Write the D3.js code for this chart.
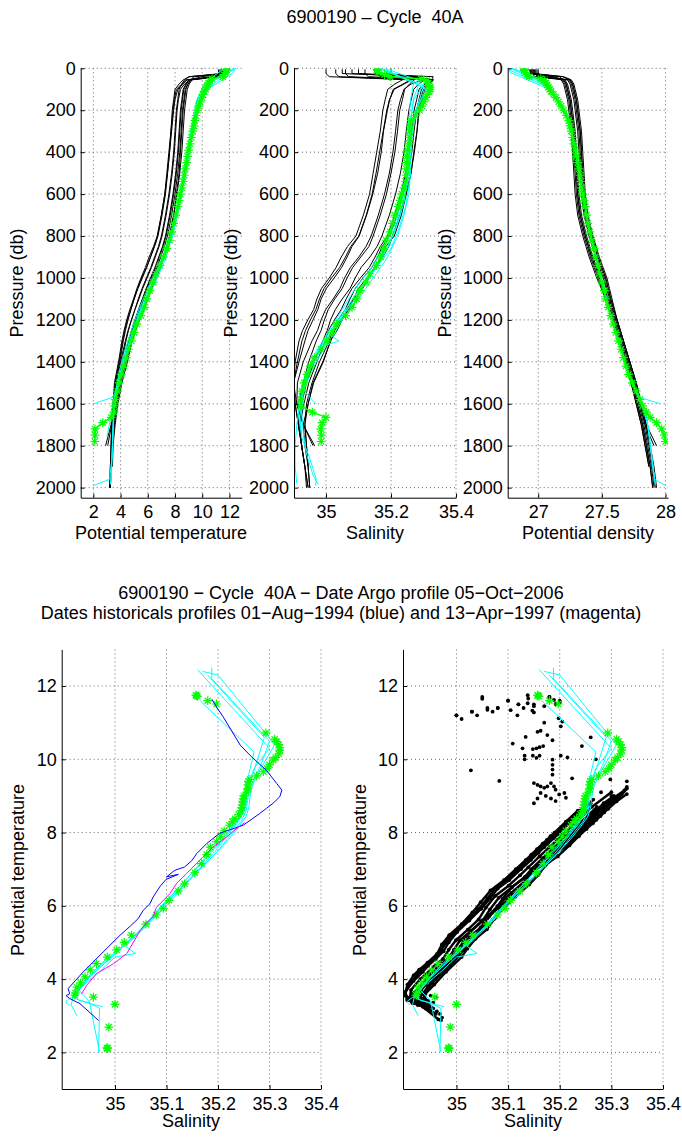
<!DOCTYPE html>
<html><head><meta charset="utf-8">
<script src="https://cdn.jsdelivr.net/npm/d3@7"></script>
<style>
body{margin:0;background:#fff;}
svg text{font-family:"Liberation Sans",Arial,Helvetica,sans-serif;}
</style></head><body>
<svg id="c" width="682" height="1138"></svg>
<script>
// ---------------- DATA ----------------
const presTicks = [0,200,400,600,800,1000,1200,1400,1600,1800,2000];
const tempTicks = [2,4,6,8,10,12];
const salTicksTop = [35,35.2,35.4];
const densTicks = [27,27.5,28];
const salTicksBottom = [35,35.1,35.2,35.3,35.4];
const thetaTicks = [2,4,6,8,10,12];

// Argo float profile (green)
const floatP = [5,10,20,30,40,50,60,70,80,90,100,110,125,140,160,180,200,225,250,275,300,330,360,390,420,450,480,510,540,570,600,630,660,700,740,780,820,860,900,940,980,1020,1060,1100,1140,1180,1220,1260,1300,1340,1380,1420,1460,1500,1540,1580,1610,1640,1665,1690,1720,1750,1780];
const floatT = [11.75,11.74,11.72,11.6,11.51,10.72,10.55,10.48,10.4,10.32,10.25,10.15,10.05,9.98,9.85,9.75,9.66,9.55,9.45,9.4,9.3,9.2,9.1,9.0,8.92,8.85,8.75,8.68,8.6,8.5,8.38,8.3,8.2,8.05,7.9,7.75,7.6,7.4,7.15,6.9,6.6,6.4,6.15,5.93,5.75,5.5,5.2,5.0,4.8,4.6,4.42,4.25,4.06,3.9,3.78,3.62,3.56,3.51,3.31,2.69,2.12,2.12,2.1];
const floatS = [35.157,35.158,35.16,35.18,35.197,35.293,35.31,35.314,35.318,35.32,35.32,35.318,35.312,35.307,35.30,35.295,35.288,35.275,35.262,35.259,35.258,35.258,35.255,35.25,35.249,35.248,35.247,35.246,35.245,35.24,35.233,35.228,35.222,35.212,35.205,35.197,35.185,35.178,35.168,35.155,35.135,35.123,35.105,35.094,35.08,35.06,35.032,35.018,35.003,34.985,34.964,34.952,34.942,34.933,34.926,34.923,34.922,34.958,35.0,34.988,34.984,34.986,34.985];
const floatD = [26.89,26.89,26.90,26.91,26.93,27.02,27.05,27.06,27.07,27.08,27.09,27.10,27.12,27.14,27.16,27.18,27.20,27.22,27.24,27.25,27.26,27.27,27.28,27.29,27.30,27.31,27.32,27.33,27.335,27.34,27.35,27.36,27.37,27.38,27.39,27.405,27.42,27.44,27.45,27.47,27.48,27.50,27.52,27.53,27.55,27.57,27.59,27.61,27.63,27.65,27.67,27.69,27.71,27.74,27.77,27.80,27.82,27.85,27.88,27.93,27.97,27.99,28.0];

// Neighbouring Argo profiles (black)
const blackP = [5,25,40,55,75,100,150,200,300,400,500,600,700,800,850,900,950,1000,1050,1100,1150,1200,1250,1300,1400,1500,1600,1700,1800,1900,2000];
const blackT = [
[11.5,11.5,11.4,9.2,8.95,8.8,8.7,8.6,8.5,8.4,8.3,8.1,7.9,7.6,7.38,7.1,6.82,6.5,6.18,5.9,5.62,5.3,5.03,4.8,4.4,4.0,3.75,3.55,3.4,3.3,3.25],
[11.7,11.65,9.0,8.7,8.5,8.3,8.2,8.1,8.0,7.9,7.75,7.55,7.3,7.0,6.78,6.5,6.22,5.9,5.58,5.3,5.06,4.8,4.58,4.4,4.1,3.8,3.6,3.45,3.35,null,null],
[11.3,11.3,11.2,8.9,8.6,8.2,8.0,7.9,7.75,7.6,7.45,7.3,7.05,6.75,6.5,6.2,5.9,5.55,5.25,5.0,4.76,4.5,4.31,4.15,3.9,3.6,3.45,3.35,3.3,3.25,3.2],
[11.6,11.55,10.6,9.25,9.05,8.9,8.8,8.7,8.6,8.5,8.35,8.15,7.9,7.6,7.42,7.2,6.93,6.6,6.28,6.0,5.72,5.4,5.1,4.85,4.5,4.1,3.8,3.6,3.45,3.4,null],
[11.4,11.4,9.1,8.6,8.3,8.0,7.9,7.8,7.7,7.55,7.4,7.25,7.0,6.7,6.42,6.1,5.82,5.5,5.2,4.95,4.68,4.45,4.26,4.1,3.85,3.55,3.45,3.3,2.9,null,null],
[11.5,11.45,11.0,9.0,8.8,8.6,8.5,8.4,8.3,8.2,8.05,7.85,7.6,7.3,7.08,6.8,6.52,6.2,5.88,5.6,5.32,5.05,4.8,4.6,4.25,3.9,3.65,3.5,3.4,3.3,3.25],
[11.2,11.2,11.1,8.8,8.5,8.1,7.95,7.85,7.7,7.6,7.45,7.25,7.0,6.7,6.47,6.2,5.92,5.6,5.28,5.0,4.76,4.55,4.36,4.2,3.95,3.65,3.5,3.35,3.3,3.25,3.2],
[11.6,11.6,9.4,9.15,8.95,8.75,8.65,8.55,8.45,8.35,8.2,8.0,7.75,7.45,7.22,6.95,6.68,6.35,6.0,5.7,5.41,5.15,4.88,4.65,4.3,3.95,3.7,3.5,3.4,3.3,null],
[11.4,11.35,11.3,9.1,8.7,8.4,8.25,8.15,8.05,7.95,7.8,7.6,7.35,7.05,6.83,6.55,6.27,5.95,5.63,5.35,5.06,4.8,4.55,4.35,4.0,3.7,3.5,3.35,3.05,null,null],
[11.7,11.7,10.0,9.05,8.85,8.65,8.55,8.45,8.35,8.25,8.1,7.9,7.65,7.35,7.12,6.85,6.58,6.25,5.93,5.65,5.36,5.1,4.83,4.6,4.2,3.85,3.6,3.45,3.35,3.3,3.25]
];
const blackS = [
[35.12,35.12,35.13,35.33,35.315,35.30,35.29,35.285,35.28,35.27,35.262,35.247,35.232,35.21,35.184,35.172,35.155,35.127,35.100,35.085,35.070,35.047,35.027,35.015,34.99,34.96,34.945,34.93,34.935,34.945,34.95],
[35.05,35.05,35.30,35.272,35.257,35.242,35.235,35.227,35.22,35.212,35.20,35.186,35.167,35.145,35.132,35.107,35.082,35.065,35.050,35.027,35.007,34.995,34.985,34.97,34.947,34.93,34.915,34.915,34.925,null,null],
[35.03,35.03,35.04,35.265,35.24,35.21,35.195,35.187,35.176,35.165,35.154,35.142,35.124,35.101,35.076,35.06,35.042,35.017,34.994,34.98,34.969,34.952,34.937,34.926,34.912,34.90,34.905,34.915,34.925,34.935,34.94],
[35.2,35.2,35.26,35.33,35.32,35.305,35.295,35.287,35.28,35.272,35.261,35.246,35.227,35.205,35.193,35.175,35.148,35.13,35.113,35.085,35.064,35.05,35.034,35.013,34.992,34.962,34.945,34.935,34.94,34.945,null],
[35.08,35.08,35.28,35.235,35.212,35.19,35.182,35.175,35.167,35.156,35.145,35.134,35.115,35.092,35.066,35.047,35.031,35.01,34.986,34.972,34.962,34.944,34.928,34.917,34.905,34.90,34.91,34.93,34.965,null,null],
[35.15,35.15,35.17,35.305,35.285,35.27,35.262,35.255,35.247,35.24,35.229,35.214,35.195,35.172,35.157,35.135,35.108,35.09,35.074,35.05,35.029,35.014,35.004,34.99,34.964,34.94,34.925,34.92,34.925,34.935,34.945],
[35.0,35.0,35.01,35.26,35.237,35.207,35.196,35.189,35.177,35.17,35.159,35.144,35.125,35.102,35.080,35.065,35.048,35.025,35.001,34.985,34.975,34.96,34.945,34.935,34.917,34.90,34.905,34.915,34.925,34.935,34.945],
[35.1,35.1,35.33,35.325,35.305,35.286,35.279,35.271,35.264,35.256,35.245,35.23,35.211,35.189,35.167,35.151,35.133,35.106,35.080,35.062,35.047,35.026,35.008,34.998,34.972,34.947,34.932,34.92,34.925,34.935,null],
[35.06,35.06,35.07,35.30,35.262,35.24,35.229,35.221,35.214,35.206,35.195,35.18,35.161,35.139,35.123,35.101,35.075,35.057,35.043,35.022,34.999,34.985,34.974,34.957,34.93,34.912,34.91,34.93,34.96,null,null],
[35.18,35.18,35.27,35.33,35.31,35.294,35.286,35.279,35.271,35.264,35.252,35.237,35.219,35.196,35.173,35.159,35.141,35.114,35.090,35.074,35.059,35.037,35.021,35.01,34.98,34.957,34.94,34.935,34.94,34.945,34.95]
];
const blackD = [
[26.96,26.96,26.97,27.20,27.22,27.23,27.25,27.26,27.28,27.29,27.30,27.31,27.33,27.37,27.395,27.42,27.45,27.48,27.51,27.54,27.565,27.59,27.615,27.64,27.69,27.74,27.78,27.82,27.85,27.88,27.90],
[26.93,26.94,27.19,27.25,27.27,27.28,27.30,27.31,27.33,27.34,27.35,27.36,27.38,27.42,27.445,27.47,27.50,27.53,27.55,27.57,27.595,27.62,27.645,27.67,27.72,27.77,27.81,27.85,27.88,null,null],
[26.99,26.99,27.00,27.24,27.26,27.27,27.29,27.30,27.32,27.33,27.34,27.35,27.37,27.41,27.435,27.46,27.49,27.52,27.54,27.56,27.585,27.61,27.635,27.66,27.71,27.76,27.80,27.84,27.87,27.90,27.92],
[26.95,26.95,27.10,27.18,27.20,27.21,27.23,27.24,27.26,27.27,27.28,27.29,27.31,27.35,27.375,27.40,27.43,27.46,27.495,27.53,27.555,27.58,27.605,27.63,27.68,27.73,27.77,27.81,27.84,27.87,null],
[26.97,26.97,27.20,27.26,27.28,27.29,27.31,27.32,27.34,27.35,27.36,27.37,27.39,27.43,27.455,27.48,27.51,27.54,27.56,27.58,27.60,27.62,27.645,27.67,27.72,27.77,27.81,27.85,27.93,null,null],
[26.96,26.96,27.05,27.20,27.22,27.23,27.25,27.26,27.28,27.29,27.30,27.31,27.33,27.37,27.395,27.42,27.45,27.48,27.51,27.54,27.565,27.59,27.615,27.64,27.69,27.74,27.78,27.82,27.85,27.88,27.90],
[27.00,27.00,27.01,27.25,27.27,27.28,27.30,27.31,27.33,27.34,27.35,27.36,27.38,27.42,27.445,27.47,27.50,27.53,27.55,27.57,27.595,27.62,27.645,27.67,27.72,27.77,27.81,27.85,27.88,27.91,27.93],
[26.95,26.95,27.17,27.19,27.21,27.22,27.24,27.25,27.27,27.28,27.29,27.30,27.32,27.36,27.385,27.41,27.44,27.47,27.50,27.53,27.555,27.58,27.605,27.63,27.68,27.73,27.77,27.81,27.84,27.87,null],
[26.98,26.98,26.99,27.23,27.25,27.26,27.28,27.29,27.31,27.32,27.33,27.34,27.36,27.40,27.425,27.45,27.48,27.51,27.535,27.56,27.585,27.61,27.635,27.66,27.71,27.76,27.80,27.84,27.91,null,null],
[26.94,26.94,27.12,27.21,27.23,27.24,27.26,27.27,27.29,27.30,27.31,27.32,27.34,27.38,27.405,27.43,27.46,27.49,27.52,27.55,27.575,27.60,27.625,27.65,27.70,27.75,27.79,27.83,27.86,27.89,27.91]
];

// Historical profiles (cyan)
const cyanP = [
[0,80,150,250,350,450,550,650,750,850,950,1050,1150,1250,1350,1450,1530,1570,1600],
[0,10,90,160,260,360,460,560,660,760,860,960,1060,1160,1260,1360,1460,1560,1660,1760,1860,1960,1990],
[0,70,150,250,350,450,550,650,750,850,950,1050,1150,1250,1350,1450,1550,1650,1760],
[0,20,100,200,300,400,500,600,700,800,900,1000,1100,1200,1280,1300,1320,1400,1500,1600,1700,1800,1900,1980],
[0,60,140,240,340,440,540,640,740,840,940,1040,1140,1240,1340,1440,1540,1640,1740,1840,1940,1985]
];
const cyanT = [
[12.45,10.3,9.75,9.35,9.05,8.8,8.55,8.25,7.9,7.5,6.9,6.2,5.5,4.95,4.45,4.0,3.7,3.4,2.0],
[12.5,12.2,10.5,9.9,9.45,9.15,8.9,8.6,8.3,7.95,7.5,6.8,6.1,5.4,4.85,4.35,3.95,3.65,3.5,3.45,3.35,3.2,2.0],
[11.6,10.2,9.6,9.3,9.0,8.75,8.5,8.2,7.85,7.4,6.75,6.0,5.35,4.8,4.3,3.9,3.6,3.3,3.0],
[12.4,12.3,10.4,9.55,9.2,8.95,8.7,8.45,8.15,7.8,7.35,6.7,6.0,5.3,4.9,4.7,4.6,4.2,3.85,3.55,3.45,3.4,3.35,3.3],
[12.3,10.6,9.7,9.35,9.1,8.85,8.6,8.3,7.95,7.5,6.95,6.3,5.6,5.0,4.5,4.05,3.7,3.5,3.42,3.38,3.3,3.25]
];
const cyanS = [
[35.16,35.30,35.27,35.26,35.255,35.255,35.25,35.235,35.215,35.19,35.15,35.105,35.06,35.02,34.975,34.945,34.93,34.95,34.97],
[35.188,35.188,35.30,35.285,35.27,35.26,35.258,35.255,35.245,35.225,35.2,35.15,35.1,35.055,35.01,34.97,34.94,34.925,34.92,34.925,34.95,34.97,34.968],
[35.165,35.27,35.26,35.255,35.252,35.25,35.245,35.23,35.21,35.18,35.14,35.09,35.05,35.01,34.97,34.94,34.92,34.915,34.926],
[35.17,35.2,35.31,35.275,35.265,35.262,35.26,35.255,35.24,35.22,35.19,35.145,35.1,35.05,35.02,35.04,35.0,34.97,34.94,34.92,34.91,34.905,34.905,34.91],
[35.18,35.29,35.27,35.26,35.255,35.255,35.25,35.24,35.22,35.195,35.16,35.115,35.07,35.025,34.985,34.95,34.93,34.925,34.93,34.94,34.96,34.976]
];
const cyanD = [
[26.78,27.07,27.15,27.24,27.28,27.31,27.34,27.365,27.395,27.435,27.475,27.515,27.555,27.605,27.655,27.705,27.76,27.80,27.96],
[26.77,26.78,27.08,27.16,27.245,27.28,27.315,27.34,27.37,27.40,27.44,27.48,27.52,27.56,27.61,27.66,27.71,27.78,27.85,27.875,27.895,27.915,28.0],
[26.80,27.06,27.15,27.24,27.28,27.31,27.34,27.365,27.395,27.435,27.475,27.515,27.555,27.605,27.655,27.705,27.775,27.845,27.88],
[26.77,26.78,27.09,27.20,27.26,27.30,27.325,27.35,27.38,27.41,27.45,27.49,27.53,27.58,27.62,27.66,27.64,27.68,27.74,27.81,27.86,27.88,27.90,27.92],
[26.79,27.05,27.14,27.23,27.275,27.31,27.335,27.36,27.39,27.43,27.47,27.51,27.55,27.60,27.65,27.70,27.77,27.84,27.87,27.89,27.91,27.92]
];

// Historical profile 01-Aug-1994 (blue) and 13-Apr-1997 (magenta)
const blueS = [35.188,35.197,35.210,35.243,35.265,35.294,35.314,35.324,35.320,35.307,35.294,35.281,35.249,35.203,35.178,35.159,35.149,35.135,35.116,35.100,35.123,35.099,35.087,35.074,35.068,35.055,35.045,35.030,35.010,34.977,34.938,34.909,34.912,34.905,34.912,34.932,34.968];
const blueT = [11.64,11.43,11.16,10.39,10.07,9.70,9.34,9.16,8.98,8.80,8.66,8.52,8.20,7.98,7.70,7.43,7.23,7.06,6.97,6.79,6.86,6.72,6.52,6.24,6.06,5.88,5.65,5.45,5.20,4.74,4.19,3.74,3.60,3.55,3.47,3.33,2.87];
const magS = [35.252,35.235,35.217,35.190,35.171,35.139,35.120,35.107,35.094,35.080,35.074,35.060,35.049,35.023,34.997,34.964,34.945,34.935];
const magT = [8.27,8.10,7.88,7.60,7.34,6.88,6.62,6.34,6.15,5.95,5.70,5.52,5.33,4.70,4.42,4.15,3.83,3.60];

// Scattered historical points (black dots, T/S diagram)
const histS = [35.138,35.139,35.138,35.147,35.150,35.105,35.189,35.192,35.198,35.205,35.202,35.157,35.163,35.176,35.186,35.134,35.109,35.128,35.148,35.155,35.161,35.168,35.148,35.155,35.132,35.132,35.161,35.202,35.215,35.243,35.028,35.083,35.186,35.186,35.186,35.186,35.150,35.157,35.163,35.170,35.176,35.183,35.189,35.192,35.163,35.173,35.183,35.192,35.199,35.209,35.212,35.150,35.157,35.224,35.298,35.170,35.118,
  34.905,34.915,34.925,34.935,34.945,34.955,34.962,34.968,34.972,34.970,34.930,34.945,34.955,34.960,34.950];
const histT = [11.75,11.66,11.53,11.33,11.28,11.34,11.62,11.51,11.12,11.03,10.90,10.75,10.78,10.66,10.52,10.61,10.43,10.30,10.28,10.30,10.33,10.36,10.10,10.04,10.10,10.00,10.10,10.10,10.05,10.36,9.70,9.41,9.99,9.85,9.72,9.58,9.35,9.30,9.26,9.22,9.26,9.35,9.26,9.17,9.08,9.00,8.93,8.86,9.04,9.08,8.95,8.80,8.93,9.48,9.45,11.45,11.20,
  3.42,3.38,3.35,3.30,3.25,3.20,3.12,3.05,2.95,2.88,3.45,3.40,3.36,3.50,3.55];

// ---------------- DRAWING ----------------
const svg = d3.select("#c");
const FONT = '"Liberation Sans",Arial,Helvetica,sans-serif';
const FS = 18;
const fmt = v => String(+v.toFixed(2));
let clipN = 0;

function panel(o){
  const g = svg.append("g");
  const xs = d3.scaleLinear().domain(o.xDom).range([o.x0,o.x1]);
  const ys = d3.scaleLinear().domain(o.yDom).range(o.yRange);
  const id = "clip"+(clipN++);
  g.append("clipPath").attr("id",id).append("rect")
    .attr("x",o.x0).attr("y",o.y0).attr("width",o.x1-o.x0).attr("height",o.y1-o.y0);
  const grid = g.append("g").attr("stroke","#444").attr("stroke-width",0.8).attr("stroke-dasharray","1,3");
  o.xTicks.forEach(t=>grid.append("line").attr("x1",xs(t)).attr("x2",xs(t)).attr("y1",o.y0).attr("y2",o.y1));
  o.yTicks.forEach(t=>grid.append("line").attr("x1",o.x0).attr("x2",o.x1).attr("y1",ys(t)).attr("y2",ys(t)));
  const plot = g.append("g").attr("clip-path",`url(#${id})`);
  const ax = g.append("g").attr("transform",`translate(0,${o.y1})`)
    .call(d3.axisBottom(xs).tickValues(o.xTicks).tickSizeInner(-4).tickSizeOuter(0).tickPadding(8).tickFormat(fmt));
  const ay = g.append("g").attr("transform",`translate(${o.x0},0)`)
    .call(d3.axisLeft(ys).tickValues(o.yTicks).tickSizeInner(-4).tickSizeOuter(0).tickPadding(5).tickFormat(fmt));
  [ax,ay].forEach(a=>{
    a.attr("font-size",FS).attr("font-family",FONT);
    a.selectAll("path,line").attr("stroke","#000").attr("stroke-width",1);
    a.selectAll("text").attr("fill","#000");
  });
  return {plot,xs,ys};
}

const star = {draw(ctx,size){const r=Math.sqrt(size)/2,d=r*Math.SQRT1_2;
  ctx.moveTo(-r,0);ctx.lineTo(r,0);ctx.moveTo(0,-r);ctx.lineTo(0,r);
  ctx.moveTo(-d,-d);ctx.lineTo(d,d);ctx.moveTo(-d,d);ctx.lineTo(d,-d);}};
const starPath = d3.symbol().type(star).size(76)();

function drawLine(plot, pts, color, w){
  plot.append("path").datum(pts)
    .attr("d", d3.line().defined(d=>d[0]!=null && d[1]!=null).x(d=>d[0]).y(d=>d[1]))
    .attr("fill","none").attr("stroke",color).attr("stroke-width",w||1).attr("stroke-linejoin","round");
}
function drawStars(plot, pts){
  plot.append("g").selectAll("path").data(pts).join("path")
    .attr("d",starPath).attr("transform",d=>`translate(${d[0]},${d[1]})`)
    .attr("fill","none").attr("stroke","#00ff00").attr("stroke-width",1.2);
}

const BLACK="#000", CYAN="#00ffff", GREEN="#00ff00", BLUE="#0000ff", MAG="#ff00ff";

// Top panels
const topY0 = 68.3, topY1 = 497.7;
const topSpecs = [
  {x0:80.7,x1:241.7,xDom:[1.07,12.9],xTicks:tempTicks,bv:blackT,cv:cyanT,fv:floatT,label:"Potential temperature",lx:161,px:23},
  {x0:294,x1:456,xDom:[34.9015,35.4],xTicks:salTicksTop,bv:blackS,cv:cyanS,fv:floatS,label:"Salinity",lx:375,px:237},
  {x0:507.7,x1:668,xDom:[26.76,28.02],xTicks:densTicks,bv:blackD,cv:cyanD,fv:floatD,label:"Potential density",lx:588,px:451}
];
topSpecs.forEach(s=>{
  const {plot,xs,ys} = panel({x0:s.x0,x1:s.x1,y0:topY0,y1:topY1,xDom:s.xDom,yDom:[0,2048],yRange:[topY0,topY1],xTicks:s.xTicks,yTicks:presTicks});
  s.bv.forEach(arr=>drawLine(plot, blackP.map((p,i)=>[arr[i]==null?null:xs(arr[i]), ys(p)]), BLACK, 1));
  s.cv.forEach((arr,k)=>drawLine(plot, cyanP[k].map((p,i)=>[xs(arr[i]), ys(p)]), CYAN, 1));
  const fp = floatP.map((p,i)=>[xs(s.fv[i]), ys(p)]);
  drawLine(plot, fp, GREEN, 1.5);
  drawStars(plot, fp);
  svg.append("text").attr("x",s.lx).attr("y",539).attr("text-anchor","middle").attr("font-size",FS).text(s.label);
  svg.append("text").attr("transform",`translate(${s.px},283) rotate(-90)`).attr("text-anchor","middle").attr("font-size",FS).text("Pressure (db)");
});
svg.append("text").attr("x",375).attr("y",23).attr("text-anchor","middle").attr("font-size",FS).style("white-space","pre").text("6900190 \u2013 Cycle  40A");

// Bottom titles
svg.append("text").attr("x",341).attr("y",599).attr("text-anchor","middle").attr("font-size",FS)
  .style("white-space","pre").text("6900190 \u2212 Cycle  40A \u2212 Date Argo profile 05\u2212Oct\u22122006");
svg.append("text").attr("x",341).attr("y",619).attr("text-anchor","middle").attr("font-size",FS)
  .text("Dates historicals profiles 01\u2212Aug\u22121994 (blue) and 13\u2212Apr\u22121997 (magenta)");

// Bottom panels (theta/S)
const botY0 = 649.4, botY1 = 1089;
const botSpecs = [{x0:61.7,x1:321,lx:191,px:24,right:false},{x0:403,x1:663,lx:533,px:366,right:true}];
botSpecs.forEach(s=>{
  const {plot,xs,ys} = panel({x0:s.x0,x1:s.x1,y0:botY0,y1:botY1,xDom:[34.8965,35.4],yDom:[1,13],yRange:[botY1,botY0],xTicks:salTicksBottom,yTicks:thetaTicks});
  if(s.right){
    const dots = [];
    blackT.forEach((arr,k)=>arr.forEach((t,i)=>{ if(t!=null) dots.push([xs(blackS[k][i]), ys(t)]); }));
    histS.forEach((v,i)=>dots.push([xs(v), ys(histT[i])]));
    blackT.forEach((arr,k)=>drawLine(plot, arr.map((t,i)=>[t==null?null:xs(blackS[k][i]), t==null?null:ys(t)]).slice(3), BLACK, 2.4));
    plot.append("g").selectAll("circle").data(dots).join("circle")
      .attr("cx",d=>d[0]).attr("cy",d=>d[1]).attr("r",1.9).attr("fill",BLACK);
  }
  cyanT.forEach((arr,k)=>drawLine(plot, arr.map((t,i)=>[xs(cyanS[k][i]), ys(t)]), CYAN, 1));
  drawStars(plot, floatT.map((t,i)=>[xs(floatS[i]), ys(t)]));
  if(!s.right){
    drawLine(plot, blueT.map((t,i)=>[xs(blueS[i]), ys(t)]), BLUE, 1);
    drawLine(plot, magT.map((t,i)=>[xs(magS[i]), ys(t)]), MAG, 1);
  }
  svg.append("text").attr("x",s.lx).attr("y",1127).attr("text-anchor","middle").attr("font-size",FS).text("Salinity");
  svg.append("text").attr("transform",`translate(${s.px},870) rotate(-90)`).attr("text-anchor","middle").attr("font-size",FS).text("Potential temperature");
});
</script></body></html>
